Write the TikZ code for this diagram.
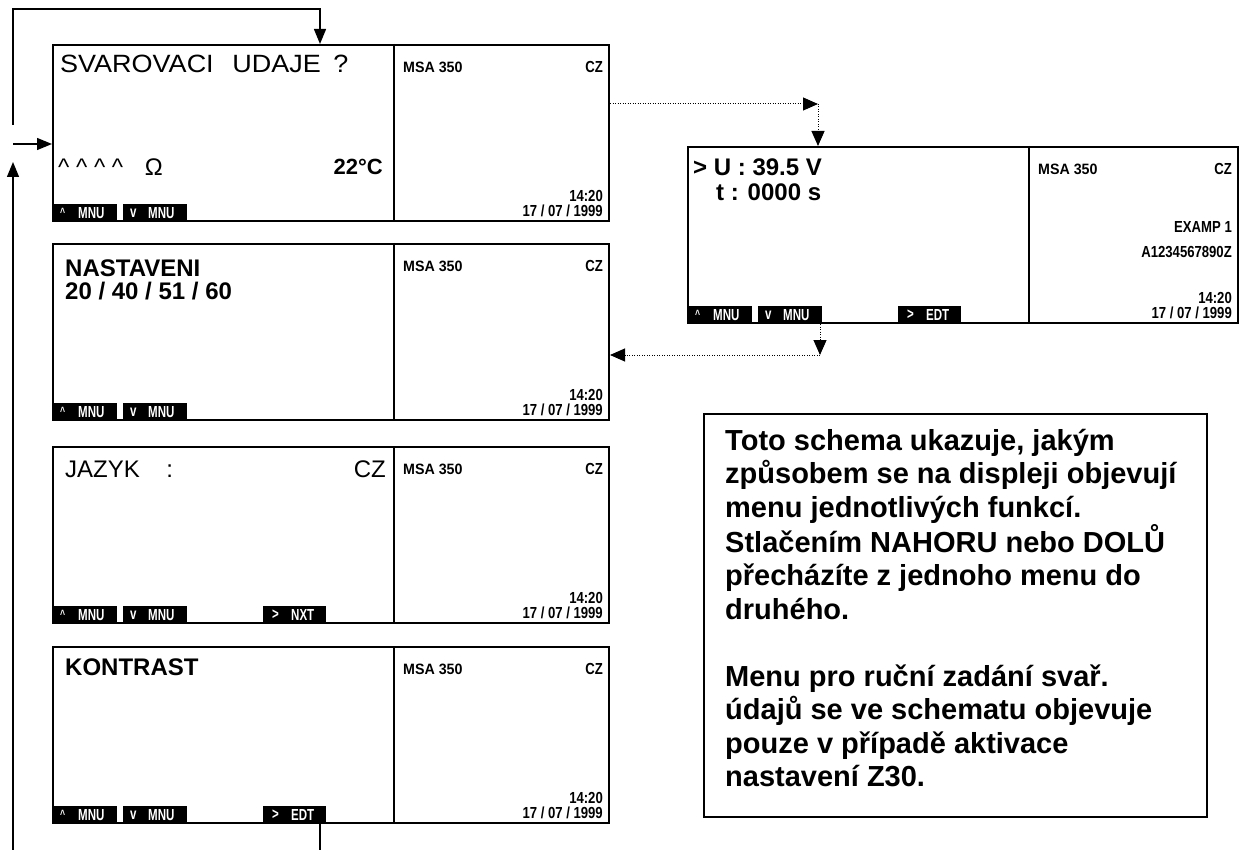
\documentclass[tikz,border=0pt]{standalone}
\usepackage{fontspec}
\setmainfont{Liberation Sans}
\newfontfamily\narrowfont[FakeStretch=0.82]{Liberation Sans}
\newfontfamily\keyfont[FakeStretch=0.72]{Liberation Sans}
\newfontfamily\semifont[FakeStretch=0.95]{Liberation Sans}
\newfontfamily\widefont[FakeStretch=1.08]{Liberation Sans}
\usetikzlibrary{arrows.meta,calc}

\tikzset{
  scr/.style={draw, line width=2pt, inner sep=0pt, anchor=north west, minimum height=176pt},
  divline/.style={line width=2pt},
  key/.style={fill=black, inner sep=0pt, anchor=south west, minimum height=18pt},
  keytxt/.style={text=white, font=\keyfont\bfseries\fontsize{16}{16}\selectfont, inner sep=0pt, anchor=west},
  big/.style={font=\fontsize{24}{24}\selectfont, inner sep=0pt, anchor=west},
  bigb/.style={font=\bfseries\fontsize{24}{24}\selectfont, inner sep=0pt, anchor=west},
  small/.style={font=\narrowfont\bfseries\fontsize{16}{16}\selectfont, inner sep=0pt, anchor=east},
  smallm/.style={font=\semifont\bfseries\fontsize{15}{15}\selectfont, inner sep=0pt, anchor=west},
  flow/.style={line width=1.3pt, -{Triangle[length=15pt,width=12pt]}},
  plainline/.style={line width=1.3pt},
  dotline/.style={line width=1pt, dash pattern=on 1pt off 1.5pt},
  dotflow/.style={dotline, -{Triangle[length=15pt,width=13pt]}},
  notebox/.style={draw, line width=2pt, inner sep=0pt, anchor=north west},
  notetext/.style={inner sep=0pt, anchor=north west, align=left, font=\bfseries\fontsize{29}{33.5}\selectfont},
}

% screen frame: #1 name, #2 x, #3 y, #4 width
\newcommand\lcdframe[4]{%
  \node[scr, minimum width=#4pt] (#1) at (#2,#3) {};
  \draw[divline] ($(#1.north west)+(342,0)$) -- ($(#1.south west)+(342,0)$);
  \node[smallm] (#1-msa) at ($(#1.north west)+(351,23)$) {MSA 350};
  \node[small] (#1-cz) at ($(#1.north east)+(-7,23)$) {CZ};
  \node[small] (#1-time) at ($(#1.south east)+(-7,-26)$) {14:20};
  \node[small] (#1-date) at ($(#1.south east)+(-7,-11)$) {17 / 07 / 1999};
  \node[key, minimum width=65pt] (#1-k1) at (#1.south west) {};
  \node[keytxt] (#1-k1a) at ($(#1-k1.west)+(8,0)$) {\fontsize{12}{12}\selectfont\textasciicircum};
  \node[keytxt] (#1-k1b) at ($(#1-k1.west)+(26,0)$) {MNU};
  \node[key, minimum width=64pt] (#1-k2) at ($(#1.south west)+(71,0)$) {};
  \node[keytxt] (#1-k2a) at ($(#1-k2.west)+(7,0)$) {v};
  \node[keytxt] (#1-k2b) at ($(#1-k2.west)+(25,0)$) {MNU};
}
\newcommand\thirdkey[2]{%
  \node[key, minimum width=63pt] (#1-k3) at ($(#1.south west)+(211,0)$) {};
  \node[keytxt] (#1-k3a) at ($(#1-k3.west)+(9,0)$) {>};
  \node[keytxt] (#1-k3b) at ($(#1-k3.west)+(28,0)$) {#2};
}

\begin{document}
\begin{tikzpicture}[x=1pt, y=-1pt]
\useasboundingbox (0,0) rectangle (1239,850);

% screen 1
\lcdframe{s1}{52}{44}{556}
\node[big, font=\widefont\fontsize{25}{25}\selectfont] (s1-title) at ($(s1.north west)+(8,20)$) {SVAROVACI\hspace{0.75em}UDAJE\hspace{0.5em}?};
\node[big] (s1-ohm) at ($(s1.north west)+(6,123)$) {\textasciicircum\ \textasciicircum\ \textasciicircum\ \textasciicircum\hspace{0.9em}Ω};
\node[bigb, anchor=east, font=\bfseries\fontsize{22}{22}\selectfont] (s1-temp) at ($(s1.north west)+(331,123)$) {22°C};

% screen 2
\lcdframe{s2}{52}{243}{556}
\node[bigb] (s2-l1) at ($(s2.north west)+(13,25)$) {NASTAVENI};
\node[bigb] (s2-l2) at ($(s2.north west)+(13,48)$) {20 / 40 / 51 / 60};

% screen 3
\lcdframe{s3}{52}{446}{556}
\thirdkey{s3}{NXT}
\node[big] (s3-l1) at ($(s3.north west)+(13,23)$) {JAZYK\hspace{1.1em}:};
\node[big, anchor=east] (s3-cz) at ($(s3.north west)+(334,23)$) {CZ};

% screen 4
\lcdframe{s4}{52}{646}{556}
\thirdkey{s4}{EDT}
\node[bigb] (s4-l1) at ($(s4.north west)+(13,21)$) {KONTRAST};

% right screen
\lcdframe{r}{687}{146}{550}
\thirdkey{r}{EDT}
\node[bigb] (r-l1) at ($(r.north west)+(6,21)$) {> U : 39.5 V};
\node[bigb] (r-l2) at ($(r.north west)+(29,46)$) {t : 0000 s};
\node[small] (r-ex) at ($(r.north east)+(-7,81)$) {EXAMP 1};
\node[small] (r-id) at ($(r.north east)+(-7,106)$) {A1234567890Z};

% note box
\node[notebox, minimum width=503pt, minimum height=403pt] (note) at (703,413) {};
\node[notetext] (note-t) at (725,422) {\rule{0pt}{28pt}Toto schema ukazuje, jakým\\
způsobem se na displeji objevují\\
menu jednotlivých funkcí.\\
Stlačením NAHORU nebo DOLŮ\\
přecházíte z jednoho menu do\\
druhého.\\[33.5pt]
Menu pro ruční zadání svař.\\
údajů se ve schematu objevuje\\
pouze v případě aktivace\\
nastavení Z30.};

% left loop connectors
\coordinate (lb) at (13,850);
\coordinate (lu) at (13,162);
\coordinate (la) at (13,144);
\coordinate (lt) at (13,125);
\coordinate (tc) at (320,9);
\coordinate (eb) at (320,850);
\draw[flow] (lb) -- (lu);
\draw[flow] (la) -- (s1.west |- la);
\draw[flow] (lt) |- (tc) -- (tc |- s1.north);
\draw[plainline] (eb |- s4.south) -- (eb);

% dotted connectors
\coordinate (d1) at (818,104);
\coordinate (d2) at (820,355);
\draw[dotflow] (s1.east |- d1) -- (d1);
\draw[dotflow] (d1) -- (d1 |- r.north);
\draw[dotflow] (d2 |- r.south) -- (d2);
\draw[dotflow] (d2) -- (s2.east |- d2);
\end{tikzpicture}
\end{document}
